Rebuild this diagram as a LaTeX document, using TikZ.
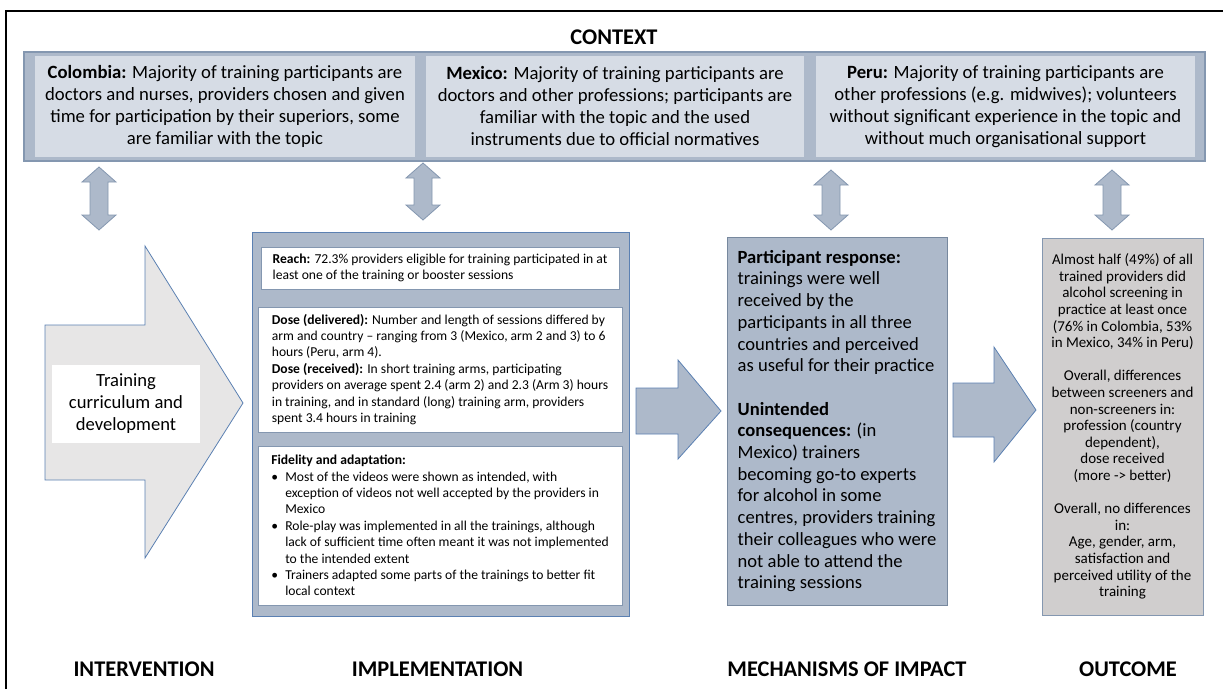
\documentclass[tikz,border=0pt]{standalone}
\usepackage{fontspec}
\setmainfont{Carlito}
\usetikzlibrary{positioning}
\definecolor{ctxdark}{HTML}{ADB9CA}
\definecolor{ctxlight}{HTML}{D6DCE5}
\definecolor{ctxline}{HTML}{8497B0}
\definecolor{blueline}{HTML}{5B80B2}
\definecolor{lightgray}{HTML}{E7E6E6}
\definecolor{outgray}{HTML}{D0CECE}
\begin{document}
\begin{tikzpicture}[x=1pt,y=-1pt,
        ctxbox/.style={% For the outer context band
            rectangle,
            draw=ctxline,
            line width=1.2pt,
            fill=ctxdark,
            },
        country/.style={% For the three country boxes
            rectangle,
            fill=ctxlight,
            align=center,
            minimum height=101pt,
            font=\fontsize{18.7}{22}\selectfont,
            },
        implbox/.style={% For the implementation frame
            rectangle,
            draw=blueline,
            line width=0.8pt,
            fill=ctxdark,
            },
        item/.style={% For the white boxes inside
            rectangle,
            draw=ctxline,
            line width=0.8pt,
            fill=white,
            align=left,
            font=\fontsize{13.6}{16.4}\selectfont,
            },
        mech/.style={% For mechanisms of impact
            rectangle,
            draw=ctxline!90!black,
            line width=0.8pt,
            fill=ctxdark,
            align=left,
            font=\fontsize{18.6}{21.7}\selectfont,
            },
        outc/.style={% For the outcome box
            rectangle,
            draw=ctxline,
            line width=0.8pt,
            fill=outgray,
            align=center,
            font=\fontsize{15}{16.6}\selectfont,
            },
        blockarrow/.style={% Arrows between the stages
            draw=blueline,
            line width=0.8pt,
            fill=ctxdark,
            },
        dblarrow/.style={% Arrows to the context
            draw=ctxline,
            line width=0.8pt,
            fill=ctxdark,
            },
        heading/.style={% something for the stage names
            font=\fontsize{22.4}{26}\selectfont\bfseries
            },
            ]
        \useasboundingbox (0,0) rectangle (1223,689);
        % Frame
        \draw[line width=2.2pt] (6,689) -- (6,11) -- (1223,11);
        % Context
        \node[heading] (ctitle) at (614,37) {CONTEXT};
        \node[ctxbox, minimum width=1181pt, minimum height=109pt] (ctx) at (614.5,106.5) {};
        \node[country, minimum width=380pt] (col) at (225,106.5)
        {\textbf{Colombia:} Majority of training participants are\\ doctors and nurses, providers chosen and given\\ time for participation by their superiors, some\\ are familiar with the topic};
        \node[country, minimum width=378pt] (mex) at (615,106.5)
        {\textbf{Mexico:} Majority of training participants are\\ doctors and other professions; participants are\\ familiar with the topic and the used\\ instruments due to official normatives};
        \node[country, minimum width=379pt] (per) at (1005.5,106.5)
        {\textbf{Peru:} Majority of training participants are\\ other professions (e.g. midwives); volunteers\\ without significant experience in the topic and\\ without much organisational support};
        \foreach \X/\Ya/\Yb in {99/167/230, 423/163/220, 831/170/230, 1112/170/230}
        {\draw[dblarrow] (\X,\Ya) -- ({\X+17},{\Ya+15}) -- ({\X+9},{\Ya+15}) -- ({\X+9},{\Yb-15})
        -- ({\X+17},{\Yb-15}) -- (\X,\Yb) -- ({\X-17},{\Yb-15}) -- ({\X-9},{\Yb-15})
        -- ({\X-9},{\Ya+15}) -- ({\X-17},{\Ya+15}) -- cycle;}
        % Intervention
        \draw[draw=blueline, line width=0.8pt, fill=lightgray] (45,325) -- (145,325) -- (145,246)
        -- (243,403) -- (145,558) -- (145,480) -- (45,480) -- cycle;
        \node[fill=white, minimum width=148pt, minimum height=78pt, align=center,
        font=\fontsize{18.6}{22}\selectfont] (interv) at (126,404)
        {Training\\ curriculum and\\ development};
        % Implementation
        \node[implbox, minimum width=377pt, minimum height=384pt] (impl) at (440.5,424) {};
        \node[item, minimum width=358pt, minimum height=42pt] (reach) at (440,268)
        {\textbf{Reach:} 72.3\% providers eligible for training participated in at\\ least one of the training or booster sessions};
        \node[item, minimum width=364pt, minimum height=125pt] (dose) at (440,369.5)
        {\textbf{Dose (delivered):} Number and length of sessions differed by\\ arm and country -- ranging from 3 (Mexico, arm 2 and 3) to 6\\ hours (Peru, arm 4).\\ \textbf{Dose (received):} In short training arms, participating\\ providers on average spent 2.4 (arm 2) and 2.3 (Arm 3) hours\\ in training, and in standard (long) training arm, providers\\ spent 3.4 hours in training};
        \node[item, minimum width=364pt, minimum height=159pt] (fid) at (440,525.5)
        {\textbf{Fidelity and adaptation:}\\
        \makebox[14pt][l]{\textbullet}Most of the videos were shown as intended, with\\
        \hspace*{14pt}exception of videos not well accepted by the providers in\\
        \hspace*{14pt}Mexico\\
        \makebox[14pt][l]{\textbullet}Role-play was implemented in all the trainings, although\\
        \hspace*{14pt}lack of sufficient time often meant it was not implemented\\
        \hspace*{14pt}to the intended extent\\
        \makebox[14pt][l]{\textbullet}Trainers adapted some parts of the trainings to better fit\\
        \hspace*{14pt}local context};
        \draw[blockarrow] (636,388) -- (678,388) -- (678,360) -- (721,411) -- (678,459)
        -- (678,434) -- (636,434) -- cycle;
        % Mechanisms of impact
        \node[mech, minimum width=220pt, minimum height=368pt] (mechs) at (837,421)
        {\textbf{Participant response:}\\ trainings were well\\ received by the\\ participants in all three\\ countries and perceived\\ as useful for their practice\\ \mbox{}\\ \textbf{Unintended}\\ \textbf{consequences:} (in\\ Mexico) trainers\\ becoming go-to experts\\ for alcohol in some\\ centres, providers training\\ their colleagues who were\\ not able to attend the\\ training sessions};
        \draw[blockarrow] (953,383) -- (994,383) -- (994,347) -- (1036,410) -- (994,462)
        -- (994,437) -- (953,437) -- cycle;
        % Outcome
        \node[outc, minimum width=161pt, minimum height=377pt] (outcome) at (1122.5,426.5)
        {Almost half (49\%) of all\\ trained providers did\\ alcohol screening in\\ practice at least once\\ (76\% in Colombia, 53\%\\ in Mexico, 34\% in Peru)\\ \mbox{}\\ Overall, differences\\ between screeners and\\ non-screeners in:\\ profession (country\\ dependent),\\ dose received\\ (more -> better)\\ \mbox{}\\ Overall, no differences\\ in:\\ Age, gender, arm,\\ satisfaction and\\ perceived utility of the\\ training};
        % Stage names
        \node[heading] (hint) at (144,669) {INTERVENTION};
        \node[heading] (himp) at (437.5,669) {IMPLEMENTATION};
        \node[heading] (hmech) at (847,669) {MECHANISMS OF IMPACT};
        \node[heading] (hout) at (1128,669) {OUTCOME};
\end{tikzpicture}
\end{document}
